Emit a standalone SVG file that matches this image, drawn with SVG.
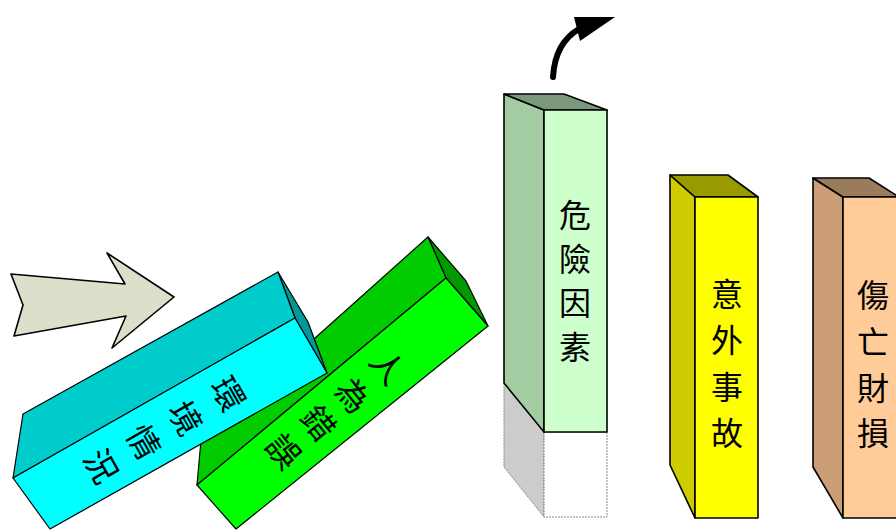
<svg xmlns="http://www.w3.org/2000/svg" width="896" height="530" viewBox="0 0 896 530">
<style>
.e{stroke:#000;stroke-width:1.2;stroke-linejoin:round}
.c{stroke:#000;stroke-width:1.6;stroke-linejoin:round}
.t{font-family:"Noto Sans CJK TC","Noto Sans CJK SC",sans-serif;font-size:32px;fill:#000;text-anchor:middle;dominant-baseline:central}
.tb{font-family:"Noto Sans CJK TC","Noto Sans CJK SC",sans-serif;font-size:33px;fill:#000;text-anchor:middle;dominant-baseline:central}
.ghost{stroke:#888;stroke-width:1;stroke-dasharray:2 1}
</style>
<rect width="896" height="530" fill="#fff"/>
<g id="connectors">
<polygon class="c" points="11,274 125,284 107,253 174,297 112,348 126,316 14,336 23,305" fill="#DDDFCB"/>
<path d="M553,77 Q555,43 579,29" fill="none" stroke="#000" stroke-width="6" stroke-linecap="round"/>
<polygon points="574,17 615,17 580,41" fill="#000"/>
</g>
<g id="node-human-error">
<polygon class="e" points="428,237 466,281 488,326 446,278" fill="#009900"/>
<polygon class="e" points="201,440 428,237 446,278 197,485" fill="#00CC00"/>
<polygon class="e" points="197,485 446,278 488,326 236,529" fill="#00FF00"/>
<g transform="translate(337,408) rotate(51)">
<text class="tb" x="0" y="-67">人</text>
<text class="tb" x="0" y="-22">為</text>
<text class="tb" x="0" y="22">錯</text>
<text class="tb" x="0" y="67">誤</text>
</g>
</g>
<g id="node-environment">
<polygon class="e" points="278,272 308,322 327,373 295,318" fill="#009999"/>
<polygon class="e" points="23,414 278,272 295,318 13,478" fill="#00CCCC"/>
<polygon class="e" points="13,478 295,318 327,373 50,529" fill="#00FFFF"/>
<g transform="translate(166,429) rotate(60.4)">
<text class="tb" x="0" y="-73">環</text>
<text class="tb" x="0" y="-24">境</text>
<text class="tb" x="0" y="24">情</text>
<text class="tb" x="0" y="73">況</text>
</g>
</g>
<g id="node-hazard">
<polygon class="ghost" points="504,383 544,432 544,517 504,467" fill="#CCCCCC"/>
<rect class="ghost" x="544" y="432" width="63" height="85" fill="#fff"/>
<polygon class="c" points="504,94 544,110 544,432 504,383" fill="#A3CCA3"/>
<polygon class="c" points="504,94 564,94 607,110 544,110" fill="#7A997A"/>
<rect class="c" x="544" y="110" width="63" height="322" fill="#CCFFCC"/>
<text class="t" x="575" y="213">危</text>
<text class="t" x="575" y="257">險</text>
<text class="t" x="575" y="301">因</text>
<text class="t" x="575" y="345">素</text>
</g>
<g id="node-accident">
<polygon class="c" points="670,175 695,197 695,518 670,465" fill="#CCCC00"/>
<polygon class="c" points="670,175 728,175 758,197 695,197" fill="#999900"/>
<rect class="c" x="695" y="197" width="63" height="321" fill="#FFFF00"/>
<text class="t" x="727" y="292">意</text>
<text class="t" x="727" y="338">外</text>
<text class="t" x="727" y="385">事</text>
<text class="t" x="727" y="431">故</text>
</g>
<g id="node-loss">
<polygon class="c" points="813,178 843,197 843,518 813,467" fill="#CC9E77"/>
<polygon class="c" points="813,178 869,178 899,197 843,197" fill="#9A7B5B"/>
<rect class="c" x="843" y="197" width="60" height="321" fill="#FFCC99"/>
<text class="t" x="873" y="293">傷</text>
<text class="t" x="873" y="340">亡</text>
<text class="t" x="873" y="386">財</text>
<text class="t" x="873" y="431">損</text>
</g>
</svg>
